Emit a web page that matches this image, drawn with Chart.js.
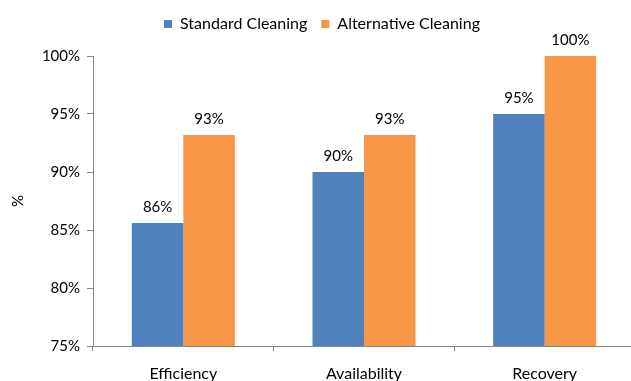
<!DOCTYPE html>
<html>
<head>
<meta charset="utf-8">
<script src="https://cdn.jsdelivr.net/npm/chart.js@4/dist/chart.umd.min.js"></script>
<style>
  html, body { margin: 0; padding: 0; background: #fff; overflow: hidden; }
  #wrap { width: 640px; height: 381px; position: relative; }
</style>
</head>
<body>
<div id="wrap"><canvas id="chart"></canvas></div>
<script>
// Cleaning method comparison, values in percent
const categories = ['Efficiency', 'Availability', 'Recovery'];
const standardCleaning = [85.6, 90.0, 95.0];
const alternativeCleaning = [93.2, 93.2, 100.0];
const seriesNames = ['Standard Cleaning', 'Alternative Cleaning'];
const yTicks = [75, 80, 85, 90, 95, 100];

const FONT = 'Lato, "Open Sans", sans-serif';
const AXIS_GREY = '#868686';

// Writes each bar's rounded value just above it
const valueLabels = {
  id: 'valueLabels',
  afterDatasetsDraw(chart) {
    const ctx = chart.ctx;
    ctx.save();
    ctx.font = '15px ' + FONT;
    ctx.fillStyle = '#000';
    ctx.textAlign = 'center';
    ctx.textBaseline = 'alphabetic';
    chart.data.datasets.forEach((ds, i) => {
      const meta = chart.getDatasetMeta(i);
      meta.data.forEach((bar, j) => {
        ctx.fillText(Math.round(ds.data[j]) + '%', bar.x, bar.y - 11);
      });
    });
    ctx.restore();
  }
};

// Leaves extra room between the legend and the plot
const legendGap = {
  id: 'legendGap',
  beforeInit(chart) {
    const fit = chart.legend.fit;
    chart.legend.fit = function () {
      fit.call(this);
      this.height += 14;
    };
  }
};

new Chart(document.getElementById('chart'), {
  type: 'bar',
  data: {
    labels: categories,
    datasets: [
      { label: seriesNames[0], data: standardCleaning, backgroundColor: '#4F81BD' },
      { label: seriesNames[1], data: alternativeCleaning, backgroundColor: '#F79646' }
    ]
  },
  options: {
    responsive: true,
    maintainAspectRatio: false,
    animation: false,
    datasets: { bar: { categoryPercentage: 0.57, barPercentage: 1.0 } },
    layout: { padding: { left: 9, right: 5, top: 2, bottom: 0 } },
    plugins: {
      legend: {
        position: 'top',
        labels: {
          font: { family: FONT, size: 16 },
          color: '#000',
          boxWidth: 8,
          boxHeight: 8,
          padding: 14
        }
      },
      tooltip: { enabled: false }
    },
    scales: {
      x: {
        grid: { display: true, offset: true, drawOnChartArea: false, drawTicks: true, tickLength: 5, color: AXIS_GREY },
        border: { color: AXIS_GREY },
        ticks: { font: { family: FONT, size: 16 }, color: '#000', padding: 13 },
        afterFit(scale) { scale.height = 35; }
      },
      y: {
        min: 75,
        max: 100,
        afterBuildTicks(scale) { scale.ticks = yTicks.map(v => ({ value: v })); },
        grid: { display: true, drawOnChartArea: false, drawTicks: true, tickLength: 6, color: AXIS_GREY },
        border: { color: AXIS_GREY },
        ticks: { font: { family: FONT, size: 15 }, color: '#000', padding: 7, callback: v => v + '%' },
        title: { display: true, text: '%', font: { family: FONT, size: 15 }, color: '#000', padding: 0 },
        afterFit(scale) { scale.width = 84; }
      }
    }
  },
  plugins: [valueLabels, legendGap]
});
</script>
</body>
</html>
